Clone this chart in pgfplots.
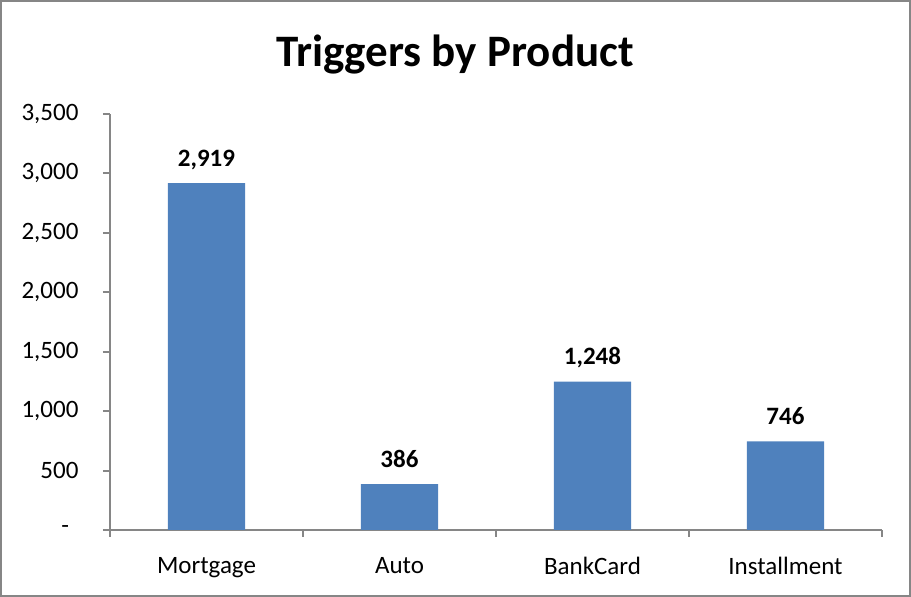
\documentclass[border=0pt]{standalone}
\usepackage{pgfplots}
\pgfplotsset{compat=1.18}
\usepackage{fontspec}
\setmainfont{Carlito}
\definecolor{barblue}{HTML}{4F81BD}
\definecolor{axgray}{HTML}{868686}
\begin{document}
\begin{tikzpicture}[x=1pt,y=1pt]
\draw[axgray, line width=2pt] (1,1) rectangle (910,596);
\useasboundingbox (0,0) rectangle (911,597);
\node[font=\fontsize{45}{54}\selectfont\bfseries] at (455,542) {Triggers by Product};
\begin{axis}[
  at={(110pt,67pt)}, anchor=south west,
  scale only axis, width=772pt, height=416pt,
  xmin=-0.5, xmax=3.5, ymin=0, ymax=3500,
  axis lines=left,
  axis line style={-, axgray, line width=2pt},
  tick style={axgray, line width=2pt},
  tick align=outside,
  major tick length=7pt, minor tick length=7pt,
  xtick={0,1,2,3},
  xticklabels={Mortgage,Auto,BankCard,Installment},
  major x tick style={draw=none},
  minor xtick={-0.5,0.5,1.5,2.5,3.5},
  ytick={0,500,1000,1500,2000,2500,3000,3500},
  yticklabels={{\makebox[17pt][l]{-}},{500},{1,000},{1,500},{2,000},{2,500},{3,000},{3,500}},
  ticklabel style={font=\fontsize{25}{30}\selectfont, text=black},
  yticklabel style={xshift=-21pt},
  xticklabel style={yshift=-17pt},
  ybar, bar width=0.4,
  nodes near coords={\pgfmathprintnumber[assume math mode=true, fixed, precision=0, 1000 sep={,}]{\pgfplotspointmeta}},
  nodes near coords style={font=\fontsize{25}{30}\selectfont\bfseries, anchor=base, inner sep=0pt, yshift=17pt, text=black},
  clip=false,
]
\addplot[fill=barblue, draw=none] coordinates {(0,2919) (1,386) (2,1248) (3,746)};
\end{axis}
\end{tikzpicture}
\end{document}
